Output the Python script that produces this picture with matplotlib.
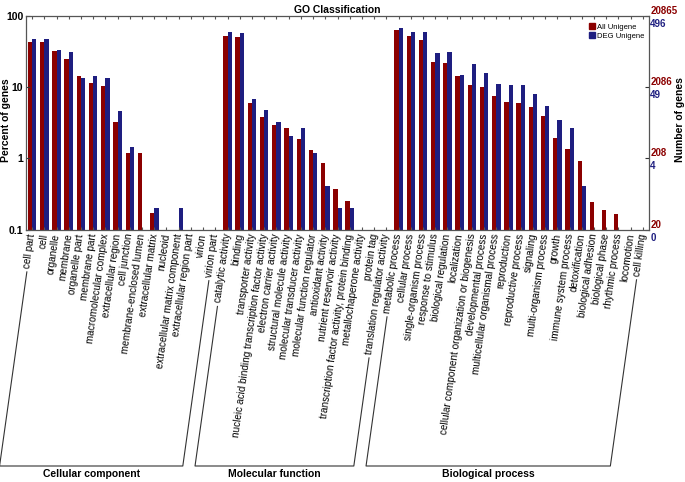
import numpy as np
import matplotlib
matplotlib.use("Agg")
import matplotlib.pyplot as plt
from matplotlib.patches import Patch
from matplotlib.lines import Line2D

# ---------------- data ----------------
cc_terms = ["cell part", "cell", "organelle", "membrane", "organelle part", "membrane part",
            "macromolecular complex", "extracellular region", "cell junction",
            "membrane-enclosed lumen", "extracellular matrix", "nucleoid",
            "extracellular matrix component", "extracellular region part", "virion", "virion part"]
mf_terms = ["catalytic activity", "binding", "transporter activity",
            "nucleic acid binding transcription factor activity", "electron carrier activity",
            "structural molecule activity", "molecular transducer activity",
            "molecular function regulator", "antioxidant activity", "nutrient reservoir activity",
            "transcription factor activity, protein binding", "metallochaperone activity",
            "protein tag", "translation regulator activity"]
bp_terms = ["metabolic process", "cellular process", "single-organism process",
            "response to stimulus", "biological regulation", "localization",
            "cellular component organization or biogenesis", "developmental process",
            "multicellular organismal process", "reproduction", "reproductive process",
            "signaling", "multi-organism process", "growth", "immune system process",
            "detoxification", "biological adhesion", "biological phase", "rhythmic process",
            "locomotion", "cell killing"]

cc_all = [43, 43, 31.6, 25, 14.4, 11.5, 10.2, 3.18, 1.17, 1.17, 0.168, 0, 0, 0, 0, 0]
cc_deg = [47, 47, 33, 30.6, 13.5, 14.4, 13.2, 4.6, 1.42, 0, 0.202, 0, 0.202, 0, 0, 0]
mf_all = [51.9, 50.7, 6.0, 3.8, 2.9, 2.65, 1.85, 1.30, 0.86, 0.37, 0.25, 0, 0, 0]
mf_deg = [59.6, 56.6, 6.7, 4.8, 3.2, 2.04, 2.62, 1.2, 0.405, 0.202, 0.202, 0, 0, 0]
bp_all = [63, 52, 45.6, 22.1, 21.4, 14.1, 10.7, 9.9, 7.4, 6.1, 6.0, 5.3, 3.87, 1.94, 1.34,
          0.90, 0.24, 0.19, 0.166, 0, 0]
bp_deg = [67, 59, 59, 30.4, 31.3, 14.6, 21, 15.7, 11, 10.6, 10.6, 7.9, 5.4, 3.4, 2.65,
          0.405, 0, 0, 0, 0, 0]

groups = ["Cellular component", "Molecular function", "Biological process"]
series_names = ["All Unigene", "DEG Unigene"]
pct_ticks = [0.1, 1, 10, 100]
pct_tick_labels = ["0.1", "1", "10", "100"]
all_count_labels = ["20", "208", "2086", "20865"]
deg_count_labels = ["0", "4", "49", "496"]

# ---------------- style ----------------
RED = "#8B0000"
BLUE = "#1E1E80"
NARROW = ["Liberation Sans Narrow", "Liberation Sans", "DejaVu Sans"]
plt.rcParams["font.family"] = ["Liberation Sans", "DejaVu Sans"]

terms = cc_terms + mf_terms + bp_terms
all_vals = np.array(cc_all + mf_all + bp_all, dtype=float)
deg_vals = np.array(cc_deg + mf_deg + bp_deg, dtype=float)
group_sizes = [len(cc_terms), len(mf_terms), len(bp_terms)]
n = len(terms)
x = np.arange(n)
w = 0.35

W, H = 685, 482
fig = plt.figure(figsize=(W / 100, H / 100), dpi=100)
ax = fig.add_axes([26 / W, 1 - 229.5 / H, (649 - 26) / W, (229.5 - 15.7) / H])

ax.bar(x - w / 2, all_vals, width=w, color=RED, log=True, label=series_names[0], linewidth=0)
ax.bar(x + w / 2, deg_vals, width=w, color=BLUE, log=True, label=series_names[1], linewidth=0)

ax.set_yscale("log")
ax.set_ylim(0.1, 100)
ax.set_xlim(-0.5, n - 0.5)
ax.set_yticks(pct_ticks)
ax.set_yticklabels(pct_tick_labels, family=NARROW, fontweight="bold", fontsize=7.5)
ax.yaxis.set_minor_locator(matplotlib.ticker.NullLocator())
ax.tick_params(axis="y", direction="in", right=True, length=3, pad=2, colors="#333333",
               labelcolor="black")
ax.set_xticks(x)
ax.set_xticklabels(terms, rotation=82, ha="right", va="center", rotation_mode="anchor",
                   fontsize=7.2)
ax.tick_params(axis="x", direction="in", top=True, length=2.5, pad=3, colors="#555555",
               labelcolor="black")
for s in ax.spines.values():
    s.set_color("#555555")
    s.set_linewidth(0.9)

fig.text(6.5 / W, 1 - 120 / H, "Percent of genes", rotation=90, ha="center", va="center",
         family=NARROW, fontweight="bold", fontsize=7.5)
ax.set_title("GO Classification", family=NARROW, fontweight="bold", fontsize=7.5, pad=2)

# right side count labels
ytr = ax.get_yaxis_transform()
for v, lab in zip(pct_ticks, all_count_labels):
    ax.text(1.002, v, lab, transform=ytr, color=RED, va="bottom", ha="left",
            family=NARROW, fontweight="bold", fontsize=7)
for v, lab in zip(pct_ticks, deg_count_labels):
    ax.text(1.002, v * 0.9, lab, transform=ytr, color=BLUE, va="top", ha="left",
            family=NARROW, fontweight="bold", fontsize=7)
fig.text(680 / W, 1 - 120 / H, "Number of genes", rotation=90, va="center",
         ha="center", family=NARROW, fontweight="bold", fontsize=7.5)

handles = [Patch(color=RED), Patch(color=BLUE)]
ax.legend(handles, series_names, loc="upper right", bbox_to_anchor=(1.0, 0.985),
          frameon=False, handlelength=0.7, handleheight=0.8, handletextpad=0.3,
          labelspacing=0.15, borderaxespad=0.2, prop={"family": NARROW, "size": 5.5})

# ---------------- group brackets ----------------
fig.canvas.draw()
renderer = fig.canvas.get_renderer()
labels = ax.get_xticklabels()
theta = np.deg2rad(82)
inv = fig.transFigure.inverted()
y_box = 16.0      # display px from bottom
y_grp = 8.0

def ray_point(i, y):
    bb = labels[i].get_window_extent(renderer)
    xt = ax.transData.transform((i, 1))[0]
    ytop = bb.y1 - 1.5
    return xt - (ytop - y) / np.tan(theta), y

start = 0
for g, size in zip(groups, group_sizes):
    i0, i1 = start, start + size - 1
    pts = []
    for i in (i0, i1):
        bb = labels[i].get_window_extent(renderer)
        ys = bb.y0 - 3
        pa = ray_point(i, ys)
        pb = ray_point(i, y_box)
        pts.append((pa, pb))
    (a0, b0), (a1, b1) = pts
    xs = [a0[0], b0[0], b1[0], a1[0]]
    ys = [a0[1], b0[1], b1[1], a1[1]]
    fpts = inv.transform(np.column_stack([xs, ys]))
    fig.add_artist(Line2D(fpts[:, 0], fpts[:, 1], color="#333333", linewidth=0.8))
    cx = (b0[0] + b1[0]) / 2
    fc = inv.transform((cx, y_grp))
    fig.text(fc[0], fc[1], g, ha="center", va="center", family=NARROW,
             fontweight="bold", fontsize=7.5)
    start += size

fig.savefig("out.png", dpi=100)
